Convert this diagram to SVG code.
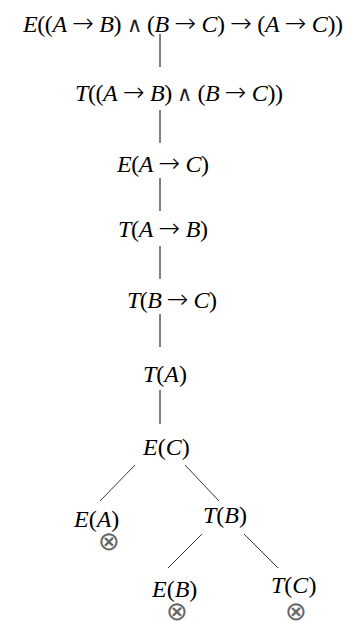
<svg xmlns="http://www.w3.org/2000/svg" width="352" height="621" viewBox="0 0 352 621">
<style>
text{font-family:"Liberation Serif","Times New Roman",serif;font-size:24px;fill:#000}
.i{font-style:italic}
.a{font-family:"DejaVu Sans",sans-serif;font-size:26px;font-weight:200}
.s{font-family:"DejaVu Sans",sans-serif;font-size:21px;font-weight:200;fill:#222}
.x{font-family:"DejaVu Sans",sans-serif;font-size:26px;font-weight:200;text-anchor:middle;fill:#666}
line{stroke:#000;stroke-width:1}
.d{stroke:#222;stroke-width:0.9}
</style>
<rect width="352" height="621" fill="#fff"/>
<g id="connectors">
<line x1="160" y1="34" x2="160" y2="67"/>
<line x1="160" y1="110" x2="160" y2="143"/>
<line x1="160" y1="178" x2="160" y2="211"/>
<line x1="160" y1="246" x2="160" y2="279"/>
<line x1="160" y1="314" x2="160" y2="347"/>
<line x1="160" y1="390" x2="160" y2="424"/>
<line class="d" x1="135" y1="465" x2="100" y2="501"/>
<line class="d" x1="185" y1="465" x2="219" y2="501"/>
<line class="d" x1="202" y1="534" x2="168" y2="568"/>
<line class="d" x1="244" y1="534" x2="278" y2="568"/>
</g>
<g id="n1"><text x="23" y="32" textLength="320" lengthAdjust="spacing"><tspan class="i">E</tspan>((<tspan class="i">A</tspan> <tspan class="a">→</tspan> <tspan class="i">B</tspan>) <tspan class="s">∧</tspan> (<tspan class="i">B</tspan> <tspan class="a">→</tspan> <tspan class="i">C</tspan>) <tspan class="a">→</tspan> (<tspan class="i">A</tspan> <tspan class="a">→</tspan> <tspan class="i">C</tspan>))</text></g>
<g id="n2"><text x="75" y="101" textLength="208" lengthAdjust="spacing"><tspan class="i">T</tspan>((<tspan class="i">A</tspan> <tspan class="a">→</tspan> <tspan class="i">B</tspan>) <tspan class="s">∧</tspan> (<tspan class="i">B</tspan> <tspan class="a">→</tspan> <tspan class="i">C</tspan>))</text></g>
<g id="n3"><text x="117" y="172" textLength="92" lengthAdjust="spacing"><tspan class="i">E</tspan>(<tspan class="i">A</tspan> <tspan class="a">→</tspan> <tspan class="i">C</tspan>)</text></g>
<g id="n4"><text x="118" y="237" textLength="90" lengthAdjust="spacing"><tspan class="i">T</tspan>(<tspan class="i">A</tspan> <tspan class="a">→</tspan> <tspan class="i">B</tspan>)</text></g>
<g id="n5"><text x="127" y="308" textLength="90" lengthAdjust="spacing"><tspan class="i">T</tspan>(<tspan class="i">B</tspan> <tspan class="a">→</tspan> <tspan class="i">C</tspan>)</text></g>
<g id="n6"><text x="143" y="382"><tspan class="i">T</tspan>(<tspan class="i">A</tspan>)</text></g>
<g id="n7"><text x="143" y="455"><tspan class="i">E</tspan>(<tspan class="i">C</tspan>)</text></g>
<g id="n8"><text x="74" y="527"><tspan class="i">E</tspan>(<tspan class="i">A</tspan>)</text><text class="x" x="109" y="550">⊗</text></g>
<g id="n9"><text x="203" y="523"><tspan class="i">T</tspan>(<tspan class="i">B</tspan>)</text></g>
<g id="n10"><text x="152" y="597"><tspan class="i">E</tspan>(<tspan class="i">B</tspan>)</text><text class="x" x="177" y="620">⊗</text></g>
<g id="n11"><text x="271" y="593"><tspan class="i">T</tspan>(<tspan class="i">C</tspan>)</text><text class="x" x="296" y="620">⊗</text></g>
</svg>
